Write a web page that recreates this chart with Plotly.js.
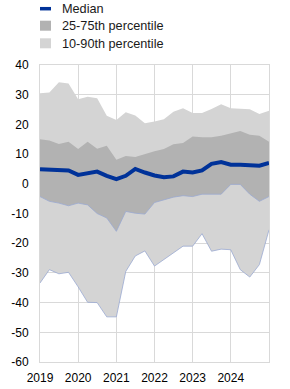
<!DOCTYPE html>
<html>
<head>
<meta charset="utf-8">
<script src="https://cdn.plot.ly/plotly-3.0.1.min.js"></script>
<style>html,body{margin:0;padding:0;background:#fff;}#chart{width:290px;height:389px;}</style>
</head>
<body>
<div id="chart"></div>
<script>
// Quarterly observations
const dates = ['2019-01-01','2019-04-01','2019-07-01','2019-10-01',
  '2020-01-01','2020-04-01','2020-07-01','2020-10-01',
  '2021-01-01','2021-04-01','2021-07-01','2021-10-01',
  '2022-01-01','2022-04-01','2022-07-01','2022-10-01',
  '2023-01-01','2023-04-01','2023-07-01','2023-10-01',
  '2024-01-01','2024-04-01','2024-07-01','2024-10-01',
  '2025-01-01'];
const p90 = [30.5,30.7,34.2,33.8,28.5,29.3,28.8,22.9,21.5,24.1,23.0,20.4,21.0,21.7,24.3,25.4,23.8,23.8,25.2,26.8,25.4,25.3,25.1,23.5,24.6];
const p75 = [15.0,14.6,13.4,14.2,11.7,14.2,11.8,12.8,8.1,9.4,9.0,10.1,11.0,11.7,13.3,13.7,15.9,15.7,15.7,16.2,17.0,17.8,16.5,16.2,14.2];
const median = [4.9,4.7,4.5,4.5,3.0,3.4,4.1,2.7,1.6,2.7,5.0,3.8,2.8,2.2,2.5,4.1,3.8,4.5,6.7,7.3,6.4,6.4,6.1,6.1,7.0];
const p25 = [-4.3,-5.9,-6.5,-7.4,-6.5,-7.1,-10.0,-11.5,-16.0,-9.3,-9.9,-10.2,-6.3,-5.4,-4.5,-4.0,-4.3,-3.5,-3.5,-3.5,-0.2,-0.2,-3.5,-5.9,-4.3];
const p10 = [-33.4,-28.9,-30.3,-29.8,-34.7,-39.9,-40.0,-44.8,-44.8,-29.5,-24.3,-22.6,-27.7,-25.5,-23.2,-21.0,-21.0,-16.8,-22.7,-22.0,-22.2,-28.9,-31.4,-27.2,-15.5];

const xTickVals = ['2019-01-01','2020-01-01','2021-01-01','2022-01-01','2023-01-01','2024-01-01'];
const xTickLabels = ['2019','2020','2021','2022','2023','2024'];
const yTickVals = [-60,-50,-40,-30,-20,-10,0,10,20,30,40];
const yTickLabels = ['-60','-50','-40','-30','-20','-10','0','10','20','30','40'];

const seriesNames = ['Median','25-75th percentile','10-90th percentile'];

const LIGHT = '#d4d4d4', DARK = '#b2b2b2', BLUE = '#003299', EDGE = '#9aaad2';

const traces = [
  {x: dates, y: p90, mode: 'lines', line: {width: 0, color: LIGHT}, showlegend: false, hoverinfo: 'skip'},
  {x: dates, y: p10, mode: 'lines', fill: 'tonexty', fillcolor: LIGHT, line: {width: 0.8, color: EDGE}, showlegend: false, hoverinfo: 'skip', name: seriesNames[2]},
  {x: dates, y: p75, mode: 'lines', line: {width: 0, color: DARK}, showlegend: false, hoverinfo: 'skip'},
  {x: dates, y: p25, mode: 'lines', fill: 'tonexty', fillcolor: DARK, line: {width: 0.8, color: EDGE}, showlegend: false, hoverinfo: 'skip', name: seriesNames[1]},
  {x: dates, y: median, mode: 'lines', line: {width: 4, color: BLUE}, showlegend: false, name: seriesNames[0]}
];

// Legend built in paper coordinates (plot area: 229 x 297 px, origin at px (40, 362))
const W = 229, H = 297, L = 40, B = 362;
const px = v => (v - L) / W;
const py = v => (B - v) / H;
const legendRows = [
  {name: seriesNames[0], kind: 'line', color: BLUE, cy: 8.7},
  {name: seriesNames[1], kind: 'box', color: DARK, cy: 25.7},
  {name: seriesNames[2], kind: 'box', color: LIGHT, cy: 43.3}
];
const shapes = [], annotations = [];
legendRows.forEach(r => {
  if (r.kind === 'line') {
    shapes.push({type: 'line', xref: 'paper', yref: 'paper', x0: px(40), x1: px(51), y0: py(r.cy), y1: py(r.cy),
                 line: {color: r.color, width: 3.5}});
  } else {
    shapes.push({type: 'rect', xref: 'paper', yref: 'paper', x0: px(40), x1: px(51), y0: py(r.cy + 5), y1: py(r.cy - 5),
                 fillcolor: r.color, line: {width: 0}});
  }
  annotations.push({xref: 'paper', yref: 'paper', x: px(60), y: py(r.cy + 0.5), xanchor: 'left', yanchor: 'middle',
                    text: r.name, showarrow: false, font: {size: 12.7, color: '#1a1a1a'}});
});

const layout = {
  width: 290, height: 389,
  margin: {l: 40, r: 21, t: 65, b: 27},
  paper_bgcolor: '#ffffff', plot_bgcolor: '#ffffff',
  font: {family: 'Liberation Sans, Arial, sans-serif', size: 12, color: '#000000'},
  showlegend: false,
  shapes: shapes,
  annotations: annotations,
  xaxis: {type: 'date', range: ['2019-01-01','2025-01-01'], tickmode: 'array',
          tickvals: xTickVals, ticktext: xTickLabels, showgrid: true, gridcolor: '#d9d9d9',
          gridwidth: 1, showline: true, mirror: true, linecolor: '#d9d9d9', linewidth: 1,
          zeroline: false, ticks: '', ticklabelstandoff: 5, tickfont: {size: 12}, fixedrange: true, automargin: false},
  yaxis: {range: [-60, 40], tickmode: 'array', tickvals: yTickVals, ticktext: yTickLabels,
          showgrid: true, gridcolor: '#d9d9d9', gridwidth: 1, showline: true, mirror: true,
          linecolor: '#d9d9d9', linewidth: 1, zeroline: true, zerolinecolor: '#555555',
          zerolinewidth: 1, ticks: '', ticklabelstandoff: 8, tickfont: {size: 12}, fixedrange: true, automargin: false}
};

Plotly.newPlot('chart', traces, layout, {displayModeBar: false, staticPlot: true});
</script>
</body>
</html>
